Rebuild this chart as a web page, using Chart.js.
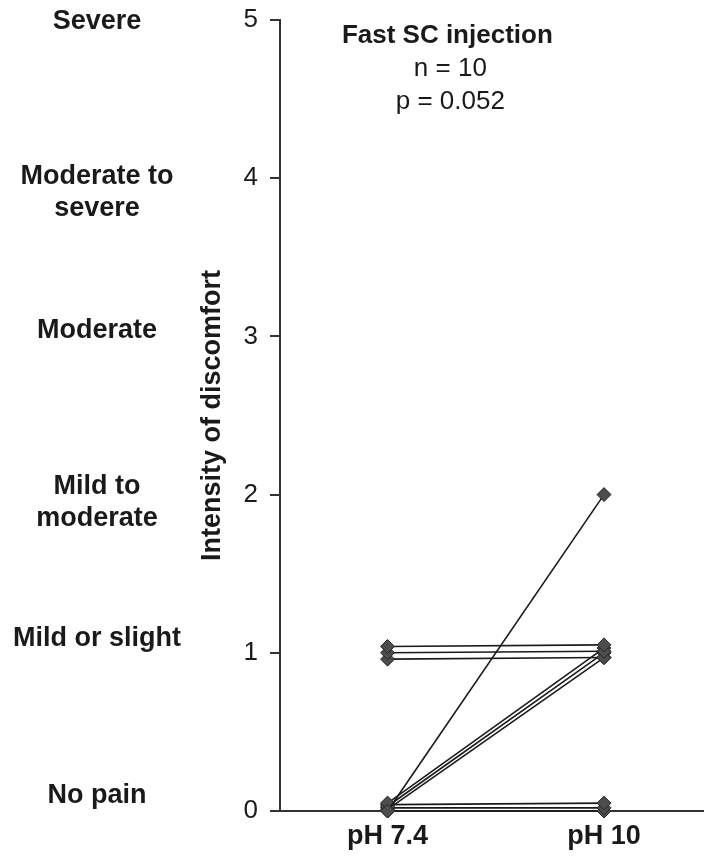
<!DOCTYPE html>
<html>
<head>
<meta charset="utf-8">
<script src="https://cdn.jsdelivr.net/npm/chart.js@4"></script>
<style>
  html, body { margin: 0; padding: 0; background: #fff; overflow: hidden; }
  canvas { display: block; }
</style>
</head>
<body>
<canvas id="painChart" width="704" height="863"></canvas>
<script>
// ===============================
// DATA
// ===============================

const groups = ["pH 7.4", "pH 10"];

// one entry per subject (small offsets so overlapping lines stay visible)
const scoreBefore = [1.04, 1.00, 0.96, 0.00, 0.05, 0.03, 0.01, 0.04, 0.02, 0.00];
const scoreAfter  = [1.05, 1.01, 0.97, 2.00, 1.03, 1.00, 0.97, 0.05, 0.02, 0.00];

const levelLabels = ["No pain", "Mild or slight", ["Mild to", "moderate"], "Moderate", ["Moderate to", "severe"], "Severe"];
const levelPos    = [0.10, 1.09, 1.95, 3.04, 3.91, 4.99];

const titleLines = ["Fast SC injection", "n = 10", "p = 0.052"];

// ===============================
// CHART
// ===============================

const FONT = "'Liberation Sans', Arial, Helvetica, sans-serif";
const INK = "#1a1a1a";

const datasets = scoreBefore.map((v, i) => ({
    label: "Subject " + (i + 1),
    data: [{ x: 0, y: v }, { x: 1, y: scoreAfter[i] }],
    borderColor: INK,
    borderWidth: 1.6,
    pointStyle: "rectRot",
    pointRadius: 7,
    pointBackgroundColor: "#4d4d4d",
    pointBorderColor: "#262626",
    pointBorderWidth: 1,
    clip: false
}));

// title block drawn inside the plot
const titlePlugin = {
    id: "titleBlock",
    afterDraw(chart) {
        const ctx = chart.ctx;
        const x = chart.scales.x.getPixelForValue(0.29);
        const top = chart.chartArea.top;
        ctx.save();
        ctx.fillStyle = INK;
        ctx.textAlign = "center";
        ctx.textBaseline = "middle";
        titleLines.forEach((t, i) => {
            ctx.font = (i === 0 ? "bold 26px " : "26px ") + FONT;
            ctx.fillText(t, i === 0 ? x - 3 : x, top + 16 + i * 33);
        });
        ctx.restore();
    }
};

// no extra room for label overflow, the layout padding handles it
function noOverflow(s) {
    s.paddingTop = 0;
    s.paddingBottom = 0;
    s.paddingLeft = 0;
    s.paddingRight = 0;
}

new Chart(document.getElementById("painChart"), {
    type: "line",
    data: { datasets: datasets },
    options: {
        responsive: false,
        animation: false,
        layout: { autoPadding: false, padding: { top: 20, right: 0, bottom: 0, left: 0 } },
        plugins: {
            legend: { display: false },
            tooltip: { enabled: false }
        },
        scales: {
            x: {
                type: "linear",
                min: -0.497,
                max: 1.462,
                afterBuildTicks: s => { s.ticks = groups.map((g, i) => ({ value: i })); },
                afterFit: s => { s.height = 52; noOverflow(s); },
                ticks: {
                    callback: (v) => groups[v],
                    font: { family: FONT, size: 27, weight: "bold" },
                    color: INK,
                    padding: 9,
                    autoSkip: false,
                    maxRotation: 0
                },
                grid: { display: false, drawTicks: false },
                border: { display: true, color: "#333", width: 2 }
            },
            y: {
                position: "left",
                weight: 0,
                min: 0,
                max: 5,
                afterFit: s => { s.width = 84; noOverflow(s); },
                ticks: {
                    stepSize: 1,
                    font: { family: FONT, size: 26 },
                    color: INK,
                    padding: 12
                },
                grid: {
                    drawOnChartArea: false,
                    drawTicks: true,
                    tickLength: 10,
                    color: "#333",
                    lineWidth: 2
                },
                border: { display: true, color: "#333", width: 2 },
                title: {
                    display: true,
                    text: "Intensity of discomfort",
                    font: { family: FONT, size: 27, weight: "bold" },
                    color: INK,
                    padding: 0
                }
            },
            levels: {
                position: "left",
                weight: 10,
                min: 0,
                max: 5,
                afterBuildTicks: s => { s.ticks = levelPos.map(v => ({ value: v })); },
                afterFit: s => { s.width = 196; noOverflow(s); },
                ticks: {
                    callback: (v, i) => levelLabels[i],
                    font: { family: FONT, size: 27, weight: "bold" },
                    color: INK,
                    crossAlign: "center",
                    padding: 15,
                    autoSkip: false
                },
                grid: { display: false, drawTicks: false },
                border: { display: false }
            }
        }
    },
    plugins: [titlePlugin]
});
</script>
</body>
</html>
